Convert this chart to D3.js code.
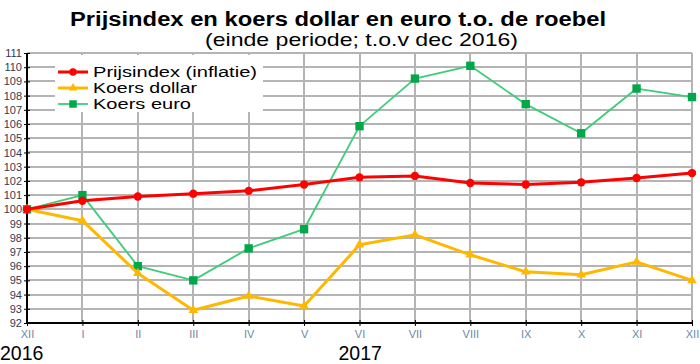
<!DOCTYPE html>
<meta charset="utf-8">
<style>
body { margin: 0; background: #fff; }
svg { font-family: "Liberation Sans", Arial, sans-serif; }
.grid line { shape-rendering: crispEdges; }
</style>
<svg width="700" height="364"></svg>
<script src="https://d3js.org/d3.v7.min.js"></script>
<script>

var months = ["XII", "I", "II", "III", "IV", "V", "VI", "VII", "VIII", "IX", "X", "XI", "XII"];
var prijsindex = [100, 100.6, 100.9, 101.1, 101.3, 101.75, 102.25, 102.35, 101.85, 101.75, 101.9, 102.2, 102.55];
var koersDollar = [100, 99.2, 95.5, 92.9, 93.9, 93.2, 97.5, 98.2, 96.8, 95.6, 95.4, 96.3, 95.0];
var koersEuro = [100, 101.0, 96.0, 95.0, 97.25, 98.6, 105.85, 109.2, 110.1, 107.4, 105.35, 108.5, 107.9];
var yTicks = d3.range(92, 112);
var years = [{label: "2016", i: 0}, {label: "2017", i: 6}];

var svg = d3.select("svg"),
    margin = {top: 53, right: 8, bottom: 41, left: 27},
    width = svg.attr("width") - margin.left - margin.right,
    height = svg.attr("height") - margin.top - margin.bottom;

var x = d3.scaleLinear().domain([0, 12]).range([0, width]);
var y = d3.scaleLinear().domain([92, 111]).range([height, 0]);

// titles
svg.append("text")
    .attr("x", 70).attr("y", 26)
    .attr("textLength", 536).attr("lengthAdjust", "spacingAndGlyphs")
    .style("font-size", "20px").style("font-weight", "bold")
    .text("Prijsindex en koers dollar en euro t.o. de roebel");
svg.append("text")
    .attr("x", 205).attr("y", 46)
    .attr("textLength", 313).attr("lengthAdjust", "spacingAndGlyphs")
    .style("font-size", "18.5px")
    .text("(einde periode; t.o.v dec 2016)");

var g = svg.append("g")
    .attr("transform", "translate(" + margin.left + "," + margin.top + ")");

// grid
var grid = g.append("g").attr("class", "grid");
grid.selectAll(".h").data(yTicks.slice(1)).enter().append("line")
    .attr("x1", 0).attr("x2", width)
    .attr("y1", function(d) { return y(d); }).attr("y2", function(d) { return y(d); })
    .attr("stroke", "#b4b4b4").attr("stroke-width", 2);
grid.selectAll(".v").data(d3.range(1, 13)).enter().append("line")
    .attr("y1", 0).attr("y2", height)
    .attr("x1", function(d) { return x(d); }).attr("x2", function(d) { return x(d); })
    .attr("stroke", "#b4b4b4").attr("stroke-width", 2);

// legend background hides the grid
g.append("rect")
    .attr("x", 28).attr("y", 2)
    .attr("width", 208).attr("height", 57)
    .attr("fill", "#fff");

// axes
var yAxis = g.append("g")
    .call(d3.axisLeft(y).tickValues(yTicks).tickSize(4).tickFormat(d3.format("d")));
yAxis.select(".domain").remove();
yAxis.selectAll(".tick line").attr("x1", -3).attr("x2", 3).attr("stroke", "#000");
yAxis.selectAll("text")
    .attr("x", -5)
    .style("font-size", "11px").style("font-family", "Liberation Sans, Arial, sans-serif")
    .attr("fill", "#333a55");

var xAxis = g.append("g")
    .attr("transform", "translate(0," + height + ")")
    .call(d3.axisBottom(x).tickValues(d3.range(0, 13)).tickSize(4)
        .tickFormat(function(d) { return months[d]; }));
xAxis.select(".domain").remove();
xAxis.selectAll(".tick line").attr("y1", -3).attr("y2", 3).attr("stroke", "#000");
xAxis.selectAll("text")
    .attr("y", 7)
    .style("font-size", "11px").style("font-family", "Liberation Sans, Arial, sans-serif")
    .attr("fill", "#6b88a8");

g.append("line").attr("x1", 0).attr("x2", 0).attr("y1", 0).attr("y2", height)
    .attr("stroke", "#000").attr("stroke-width", 2);
g.append("line").attr("x1", 0).attr("x2", width).attr("y1", height).attr("y2", height)
    .attr("stroke", "#000").attr("stroke-width", 2);

// years
svg.selectAll(".year").data(years).enter().append("text")
    .attr("x", function(d) { return d.i === 0 ? 0 : margin.left + x(d.i) - 21; })
    .attr("y", 359.5)
    .style("font-size", "19.5px")
    .text(function(d) { return d.label; });

var line = d3.line()
    .x(function(d, i) { return x(i); })
    .y(function(d) { return y(d); });

var series = [
  {name: "Prijsindex (inflatie)", values: prijsindex, color: "#ff0000", marker: "#ff0000", width: 3, shape: d3.symbolCircle, size: 55},
  {name: "Koers dollar", values: koersDollar, color: "#ffb800", marker: "#ffb800", width: 3, shape: d3.symbolTriangle, size: 40},
  {name: "Koers euro", values: koersEuro, color: "#3dcc7a", marker: "#00a84a", width: 1.8, shape: d3.symbolSquare, size: 70}
];

// draw euro first, then dollar, then prijsindex on top
[2, 1, 0].forEach(function(k) {
  var s = series[k];
  g.append("path")
      .datum(s.values)
      .attr("fill", "none")
      .attr("stroke", s.color)
      .attr("stroke-width", s.width)
      .attr("stroke-linejoin", "round")
      .attr("d", line);
  g.selectAll(".m" + k).data(s.values).enter().append("path")
      .attr("transform", function(d, i) { return "translate(" + x(i) + "," + y(d) + ")"; })
      .attr("d", d3.symbol().type(s.shape).size(s.size))
      .attr("fill", s.marker);
});

// legend
var legend = g.selectAll(".legend").data(series).enter().append("g")
    .attr("transform", function(d, i) { return "translate(31," + (19 + i * 16) + ")"; });
legend.append("line")
    .attr("x1", 0).attr("x2", 30)
    .attr("stroke", function(d) { return d.color; })
    .attr("stroke-width", function(d) { return d.width; });
legend.append("path")
    .attr("transform", "translate(15,0)")
    .attr("d", function(d) { return d3.symbol().type(d.shape).size(d.size * 0.8)(); })
    .attr("fill", function(d) { return d.marker; });
legend.append("text")
    .attr("x", 35).attr("dy", "0.35em")
    .attr("textLength", function(d, i) { return [164, 104, 98][i]; })
    .attr("lengthAdjust", "spacingAndGlyphs")
    .style("font-size", "14px")
    .text(function(d) { return d.name; });

</script>
